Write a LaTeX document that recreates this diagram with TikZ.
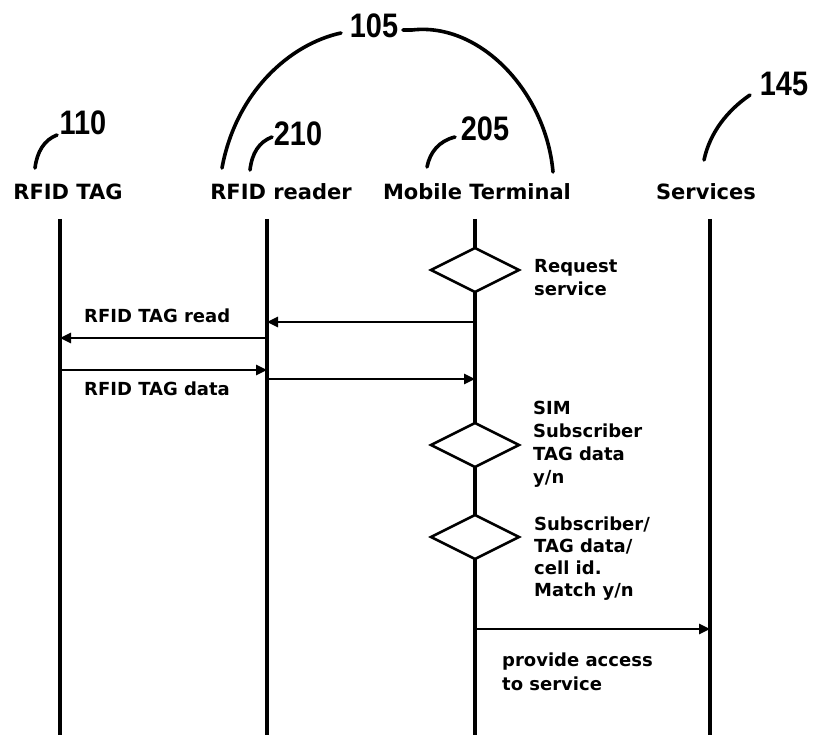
\documentclass[tikz,border=0pt]{standalone}
\usepackage{fontspec}
\setmainfont{DejaVu Sans}
\newfontfamily\handfont{Liberation Sans}
\usetikzlibrary{shapes.geometric,arrows.meta}

\tikzset{
  head/.style={font=\fontsize{21}{25}\bfseries\selectfont, inner sep=0pt, anchor=base},
  msg/.style={font=\fontsize{18}{23}\bfseries\selectfont, inner sep=0pt, anchor=base west},
  hand/.style={font=\handfont\bfseries\fontsize{34}{34}\selectfont, inner sep=0pt, xscale=0.85},
  handline/.style={line width=3.6pt, line cap=round},
  lifeline/.style={line width=3.4pt},
  decision/.style={draw, diamond, line width=2.6pt, fill=white,
    minimum width=89pt, minimum height=45pt, inner sep=0pt},
  call/.style={line width=2.6pt, -{Triangle[length=11pt,width=10pt]}}
}

\begin{document}
\begin{tikzpicture}[x=1pt, y=-1pt]
  \useasboundingbox (0,0) rectangle (822,735);

  % participant headings
  \node[head] (tag) at (68,200) {RFID TAG};
  \node[head] (rdr) at (281,200) {RFID reader};
  \node[head] (mt)  at (477,200) {Mobile Terminal};
  \node[head] (srv) at (706,200) {Services};

  % lifelines
  \coordinate (tagT) at (60,219);  \coordinate (tagB) at (60,735);
  \coordinate (rdrT) at (267,219); \coordinate (rdrB) at (267,735);
  \coordinate (mtT)  at (475,219); \coordinate (mtB)  at (475,735);
  \coordinate (srvT) at (710,219); \coordinate (srvB) at (710,735);
  \draw[lifeline] (tagT) -- (tagB);
  \draw[lifeline] (rdrT) -- (rdrB);
  \draw[lifeline] (mtT) -- (mtB);
  \draw[lifeline] (srvT) -- (srvB);

  % decisions on the mobile terminal
  \node[decision] (d1) at (475,270) {};
  \node[decision] (d2) at (475,445) {};
  \node[decision] (d3) at (475,537) {};

  % message end points on the lifelines
  \coordinate (m1a) at (475,322); \coordinate (m1b) at (267,322);
  \coordinate (m2a) at (267,338); \coordinate (m2b) at (60,338);
  \coordinate (m3a) at (60,370);  \coordinate (m3b) at (267,370);
  \coordinate (m4a) at (267,379); \coordinate (m4b) at (475,379);
  \coordinate (m5a) at (475,629); \coordinate (m5b) at (710,629);
  \draw[call] (m1a) -- (m1b);
  \draw[call] (m2a) -- (m2b);
  \draw[call] (m3a) -- (m3b);
  \draw[call] (m4a) -- (m4b);
  \draw[call] (m5a) -- (m5b);

  % labels
  \node[msg] (rq1) at (534,273) {Request};
  \node[msg] (rq2) at (534,296) {service};
  \node[msg] (rd)  at (84,323) {RFID TAG read};
  \node[msg] (dt)  at (84,395) {RFID TAG data};
  \node[msg] (s1) at (533,414) {SIM};
  \node[msg] (s2) at (533,437) {Subscriber};
  \node[msg] (s3) at (533,460) {TAG data};
  \node[msg] (s4) at (533,483) {y/n};
  \node[msg] (c1) at (534,530) {Subscriber/};
  \node[msg] (c2) at (534,552) {TAG data/};
  \node[msg] (c3) at (534,574) {cell id.};
  \node[msg] (c4) at (534,596) {Match y/n};
  \node[msg] (p1) at (502,666) {provide access};
  \node[msg] (p2) at (502,690) {to service};

  % reference numerals with leader strokes
  \node[hand] (n105) at (374,26) {105};
  \node[hand] (n110) at (83,123) {110};
  \node[hand] (n210) at (298,134) {210};
  \node[hand] (n205) at (485,129) {205};
  \node[hand] (n145) at (784,84) {145};

  \draw[handline] (222,168) .. controls (236,92) and (290,44) .. (341,33);
  \draw[handline] (403,30) -- (412,30) .. controls (480,22) and (546,92) .. (553,172);
  \draw[handline] (35,168) .. controls (37,152) and (44,140) .. (57,135);
  \draw[handline] (250,170) .. controls (252,153) and (259,142) .. (272,137);
  \draw[handline] (427,167) .. controls (430,152) and (439,141) .. (455,137);
  \draw[handline] (704,160) .. controls (710,132) and (728,110) .. (750,95);
\end{tikzpicture}
\end{document}
